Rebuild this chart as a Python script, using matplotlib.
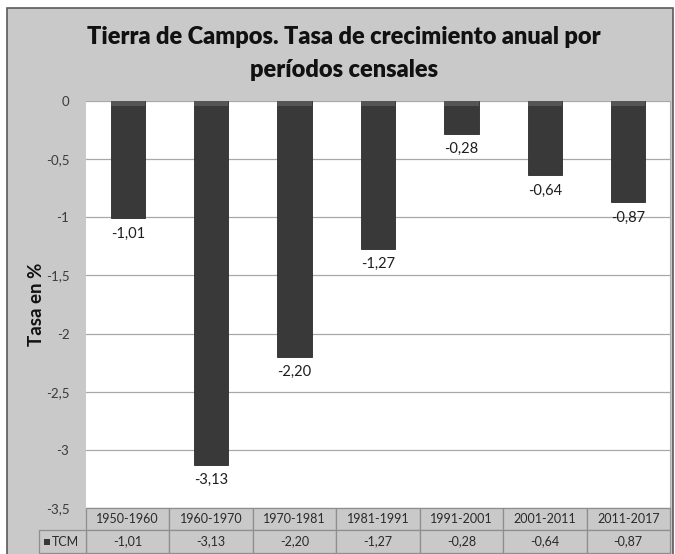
import matplotlib
matplotlib.use("Agg")
import matplotlib.pyplot as plt
from matplotlib.patches import Rectangle
from matplotlib import transforms
import numpy as np

# ---- data ----
periods = ["1950-1960", "1960-1970", "1970-1981", "1981-1991", "1991-2001", "2001-2011", "2011-2017"]
tcm = [-1.01, -3.13, -2.20, -1.27, -0.28, -0.64, -0.87]
yticks = [0, -0.5, -1, -1.5, -2, -2.5, -3, -3.5]
ytick_labels = ["0", "-0,5", "-1", "-1,5", "-2", "-2,5", "-3", "-3,5"]
series_name = "TCM"
title_lines = ["Tierra de Campos. Tasa de crecimiento anual por", "períodos censales"]
ylabel = "Tasa en %"

plt.rcParams['font.family'] = ['Lato', 'DejaVu Sans']

W, H = 675, 554
fig = plt.figure(figsize=(W / 100, H / 100), dpi=100)
fig.patch.set_facecolor("white")

def fx(px):
    return px / W

def fy(py):
    return 1 - py / H

BG = "#c9c9c9"
# chart frame
fig.add_artist(Rectangle((fx(7), fy(560)), fx(673) - fx(7), fy(8) - fy(560),
                         transform=fig.transFigure, facecolor=BG,
                         edgecolor="#5a5a5a", lw=1.2, zorder=0))

# plot area
L, R, T, B = 86, 670, 101, 508
ax = fig.add_axes([fx(L), fy(B), fx(R) - fx(L), fy(T) - fy(B)])
ax.set_facecolor("white")
ax.set_xlim(-0.5, len(periods) - 0.5)
ax.set_ylim(-3.5, 0)
for s in ax.spines.values():
    s.set_visible(False)
ax.spines["right"].set_visible(True)
ax.spines["right"].set_color("#b0b0b0")
ax.set_yticks(yticks)
ax.set_yticklabels(ytick_labels, fontsize=9.5, color="#3a3a3a")
ax.tick_params(axis="y", length=0, pad=12)
ax.set_xticks([])
ax.yaxis.grid(True, color="#a8a8a8", lw=0.9)
ax.set_axisbelow(True)

x = np.arange(len(periods))
bars = ax.bar(x, tcm, width=0.41, color="#393939", edgecolor="#2a2a2a", lw=0.6, zorder=3)
# subtle top highlight
ax.bar(x, [-0.04] * len(x), width=0.41, color="#555555", lw=0, zorder=4)
for xi, v in zip(x, tcm):
    ax.annotate(f"{v:.2f}".replace(".", ","), (xi, v), xytext=(0, -6),
                textcoords="offset points", ha="center", va="top",
                fontsize=10.5, color="#1e1e1e")

ax.set_ylabel(ylabel, fontsize=13.5, fontweight="bold", color="#111111", va="center")
ax.yaxis.set_label_coords((36 - L) / (R - L), 0.5)

# ---- data table ----
btr = transforms.blended_transform_factory(ax.transData, fig.transFigure)
atr = transforms.blended_transform_factory(ax.transAxes, fig.transFigure)
row1_top, row1_bot, row2_bot = fy(508), fy(530), fy(553)
EC = "#8e8e8e"
for i, (p, v) in enumerate(zip(periods, tcm)):
    for (yb, yt) in [(row1_bot, row1_top), (row2_bot, row1_bot)]:
        fig.add_artist(Rectangle((i - 0.5, yb), 1, yt - yb, transform=btr,
                                 facecolor=BG, edgecolor=EC, lw=0.9, clip_on=False, zorder=5))
    fig.text(i, (row1_top + row1_bot) / 2, p, transform=btr, ha="center", va="center",
             fontsize=9, color="#2a2a2a", zorder=6)
    fig.text(i, (row1_bot + row2_bot) / 2, f"{v:.2f}".replace(".", ","), transform=btr,
             ha="center", va="center", fontsize=9, color="#2a2a2a", zorder=6)
# legend cell
cell_w = (86 - 39) / (R - L)
fig.add_artist(Rectangle((-cell_w, row2_bot), cell_w, row1_bot - row2_bot, transform=atr,
                         facecolor=BG, edgecolor=EC, lw=0.9, clip_on=False, zorder=5))
key_w = 6 / (R - L)
fig.add_artist(Rectangle((-cell_w + 5 / (R - L), (row1_bot + row2_bot) / 2 - 3 / H), key_w, 6 / H,
                         transform=atr, facecolor="#393939", edgecolor="none", zorder=6))
fig.text(-cell_w + 13 / (R - L), (row1_bot + row2_bot) / 2, series_name, transform=atr,
         ha="left", va="center", fontsize=9, color="#2a2a2a", zorder=6)

# ---- title ----
cx = fx(344)
t1 = fig.text(cx, fy(44), title_lines[0], ha="center", va="baseline",
              fontsize=17, fontweight="heavy", color="#111111")
fig.canvas.draw()
w = t1.get_window_extent().width
fs = 17 * 515 / w
t1.set_fontsize(fs)
fig.text(cx, fy(77), title_lines[1], ha="center", va="baseline",
         fontsize=fs, fontweight="heavy", color="#111111")

fig.savefig("out.png", dpi=100, facecolor="white")
